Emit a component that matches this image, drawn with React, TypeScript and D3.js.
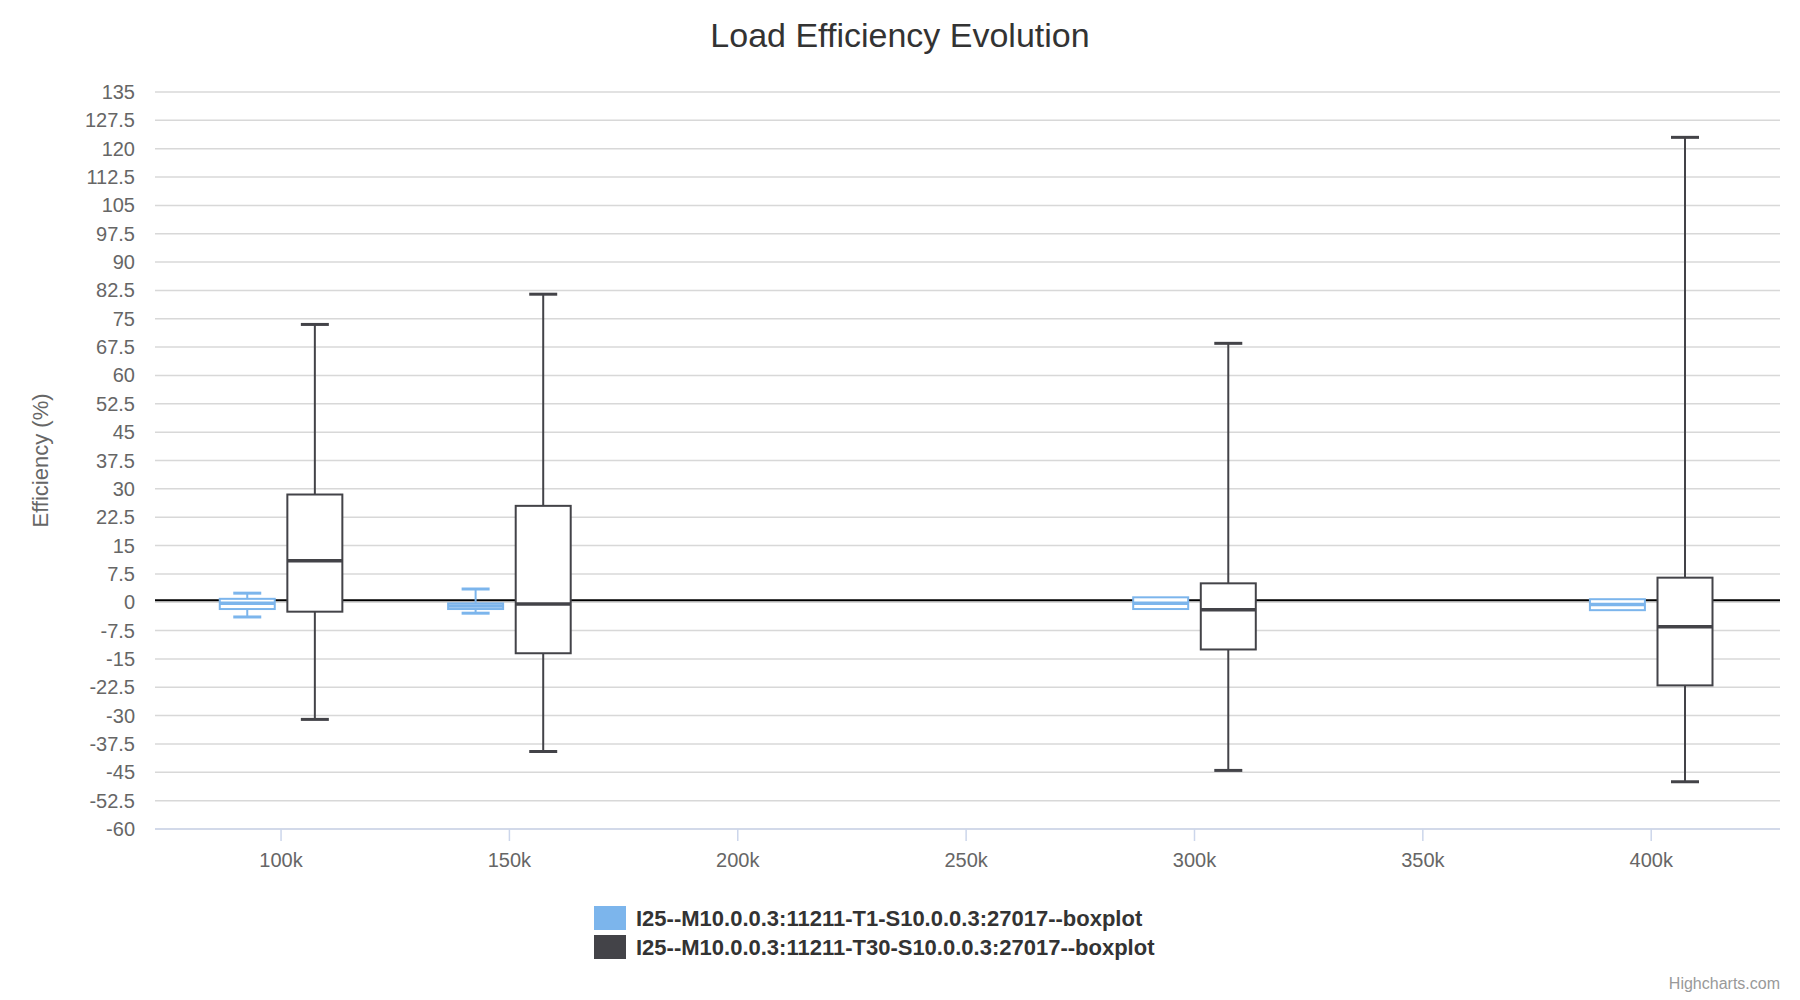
import * as d3 from "d3";

type BoxItem = { x: number; low: number; q1: number; median: number; q3: number; high: number };

const X_CATEGORIES = [100000, 150000, 300000, 400000];
const T1_BOXES: BoxItem[] = [
  { x: 100000, low: -3.9, q1: -1.8, median: -0.3, q3: 0.9, high: 2.4 },
  { x: 150000, low: -2.9, q1: -1.8, median: -1.0, q3: -0.3, high: 3.5 },
  { x: 300000, low: -1.2, q1: -1.8, median: -0.3, q3: 1.3, high: -0.2 },
  { x: 400000, low: -0.8, q1: -2.1, median: -0.6, q3: 0.8, high: -0.6 },
];
const T30_BOXES: BoxItem[] = [
  { x: 100000, low: -31, q1: -2.5, median: 11, q3: 28.5, high: 73.5 },
  { x: 150000, low: -39.5, q1: -13.5, median: -0.5, q3: 25.5, high: 81.5 },
  { x: 300000, low: -44.5, q1: -12.5, median: -2, q3: 5, high: 68.5 },
  { x: 400000, low: -47.5, q1: -22, median: -6.5, q3: 6.5, high: 123 },
];
const SERIES = [
  { name: "I25--M10.0.0.3:11211-T1-S10.0.0.3:27017--boxplot", color: "#7cb5ec", data: T1_BOXES, offset: -7400 },
  { name: "I25--M10.0.0.3:11211-T30-S10.0.0.3:27017--boxplot", color: "#434348", data: T30_BOXES, offset: 7400 },
];
const Y_TICKS = d3.range(-60, 135.1, 7.5);
const X_TICKS = [100000, 150000, 200000, 250000, 300000, 350000, 400000];

const W = 1800;
const H = 1000;
const LEFT = 155;
const RIGHT = 1780;
const TOP = 92;
const BOTTOM = 829;
const FONT = "'Liberation Sans', Arial, sans-serif";

const App = () => {
  const x = d3.scaleLinear().domain([72400, 428200]).range([LEFT, RIGHT]);
  const y = d3.scaleLinear().domain([-60, 135]).range([BOTTOM, TOP]);
  const boxW = 55;
  const capW = 28;

  return (
    <svg width={W} height={H} style={{ position: "absolute", left: 0, top: 0, fontFamily: FONT }}>
      <rect width={W} height={H} fill="#fff" />
      <text x={W / 2} y={47} textAnchor="middle" fontSize={34} fill="#333">
        Load Efficiency Evolution
      </text>
      {Y_TICKS.map((t) => (
        <g key={t}>
          <line x1={LEFT} x2={RIGHT} y1={y(t)} y2={y(t)} stroke="#d8d8d8" strokeWidth={1.5} />
          <text x={LEFT - 20} y={y(t) + 7} textAnchor="end" fontSize={20} fill="#666">
            {t}
          </text>
        </g>
      ))}
      <line x1={LEFT} x2={RIGHT} y1={BOTTOM} y2={BOTTOM} stroke="#ccd6eb" strokeWidth={1.5} />
      {X_TICKS.map((t) => (
        <g key={t}>
          <line x1={x(t)} x2={x(t)} y1={BOTTOM} y2={BOTTOM + 12} stroke="#ccd6eb" strokeWidth={1.5} />
          <text x={x(t)} y={BOTTOM + 38} textAnchor="middle" fontSize={20} fill="#666">
            {t / 1000}k
          </text>
        </g>
      ))}
      <text
        transform={`translate(48, ${(TOP + BOTTOM) / 2}) rotate(-90)`}
        textAnchor="middle"
        fontSize={22}
        fill="#666"
      >
        Efficiency (%)
      </text>
      <line x1={LEFT} x2={RIGHT} y1={y(0) - 2} y2={y(0) - 2} stroke="#000" strokeWidth={2} />
      {SERIES.map((s) =>
        s.data.map((d) => {
          const cx = x(d.x + s.offset);
          return (
            <g key={s.name + d.x} stroke={s.color} strokeWidth={2}>
              <line x1={cx} x2={cx} y1={y(d.high)} y2={y(d.q3)} />
              <line x1={cx} x2={cx} y1={y(d.q1)} y2={y(d.low)} />
              <line x1={cx - capW / 2} x2={cx + capW / 2} y1={y(d.high)} y2={y(d.high)} strokeWidth={3} />
              <line x1={cx - capW / 2} x2={cx + capW / 2} y1={y(d.low)} y2={y(d.low)} strokeWidth={3} />
              <rect
                x={cx - boxW / 2}
                y={y(d.q3)}
                width={boxW}
                height={Math.max(1, y(d.q1) - y(d.q3))}
                fill="#fff"
              />
              <line x1={cx - boxW / 2} x2={cx + boxW / 2} y1={y(d.median)} y2={y(d.median)} strokeWidth={3.5} />
            </g>
          );
        })
      )}
      {SERIES.map((s, i) => (
        <g key={s.name} transform={`translate(594, ${906 + i * 29})`}>
          <rect width={32} height={24} fill={s.color} />
          <text x={42} y={20} fontSize={22} fontWeight="bold" fill="#333">
            {s.name}
          </text>
        </g>
      ))}
      <text x={RIGHT} y={989} textAnchor="end" fontSize={16} fill="#999">
        Highcharts.com
      </text>
    </svg>
  );
};

export default App;
